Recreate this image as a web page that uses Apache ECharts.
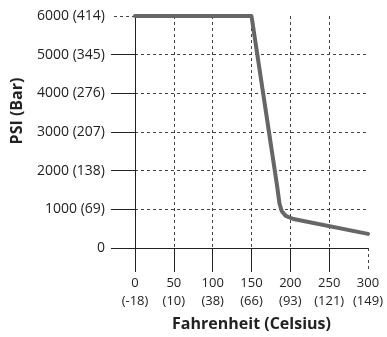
<!DOCTYPE html>
<html>
<head>
<meta charset="utf-8">
<script src="https://cdn.jsdelivr.net/npm/echarts@6/dist/echarts.min.js"></script>
<style>
  html, body { margin: 0; padding: 0; background: #fff; }
  #chart { width: 387px; height: 337px; }
</style>
</head>
<body>
<div id="chart"></div>
<script>
// data
const tempF = [0, 150, 183, 186, 189, 194, 204, 300]
const pressurePsi = [6000, 6000, 1600, 1150, 950, 830, 750, 365]

const fahrenheitTicks = [0, 50, 100, 150, 200, 250, 300]
const celsiusLabels = ['(-18)', '(10)', '(38)', '(66)', '(93)', '(121)', '(149)']
const psiTicks = [0, 1000, 2000, 3000, 4000, 5000, 6000]
const barLabels = ['', '(69)', '(138)', '(207)', '(276)', '(345)', '(414)']

const xMin = 0, xMax = 300, xStep = 50
const yMin = 0, yMax = 6000, yStep = 1000

const font = 'Open Sans'
const dark = '#222'
const dash = [3, 3]

const chart = echarts.init(document.getElementById('chart'))

const hidden = { show: false }

const option = {
  animation: false,
  grid: { left: 135, right: 19, top: 16, bottom: 86 },
  xAxis: [
    {
      type: 'value', position: 'bottom', min: xMin, max: xMax, interval: xStep,
      name: 'Fahrenheit (Celsius)',
      nameLocation: 'middle',
      nameGap: 68,
      nameTextStyle: { fontFamily: font, fontSize: 16, fontWeight: 'bold', color: dark },
      axisLine: { show: true, lineStyle: { color: dark, width: 1 } },
      axisTick: {
        show: true, length: 24, customValues: fahrenheitTicks.slice(0, -1),
        lineStyle: { color: dark, width: 1 }
      },
      axisLabel: {
        margin: 26,
        fontFamily: font, fontSize: 13, color: dark, lineHeight: 18,
        formatter: v => v + '\n' + celsiusLabels[fahrenheitTicks.indexOf(v)]
      },
      splitLine: { show: true, lineStyle: { color: '#444', type: dash, width: 1 } }
    },
    {
      // dashed tick under the right border
      type: 'value', position: 'bottom', min: xMin, max: xMax, interval: xStep,
      axisLine: hidden, axisLabel: hidden, splitLine: hidden,
      axisTick: {
        show: true, length: 24, customValues: [xMax],
        lineStyle: { color: '#444', type: dash, width: 1 }
      }
    }
  ],
  yAxis: [
    {
      type: 'value', position: 'left', min: yMin, max: yMax, interval: yStep,
      name: 'PSI (Bar)',
      nameLocation: 'middle',
      nameGap: 110,
      nameTextStyle: {
        fontFamily: font, fontSize: 16, fontWeight: 'bold', color: dark,
        padding: [0, 0, 0, 42]
      },
      axisLine: { show: true, lineStyle: { color: dark, width: 1 } },
      axisTick: {
        show: true, length: 24, customValues: psiTicks.slice(0, -1),
        lineStyle: { color: dark, width: 1 }
      },
      axisLabel: {
        margin: 30,
        fontFamily: font, fontSize: 14, color: dark,
        formatter: v => {
          const b = barLabels[psiTicks.indexOf(v)]
          return b ? v + ' ' + b : String(v)
        }
      },
      splitLine: { show: true, lineStyle: { color: '#444', type: dash, width: 1 } }
    },
    {
      // dashed tick left of the top border
      type: 'value', position: 'left', min: yMin, max: yMax, interval: yStep,
      axisLine: hidden, axisLabel: hidden, splitLine: hidden,
      axisTick: {
        show: true, length: 24, customValues: [yMax],
        lineStyle: { color: '#444', type: dash, width: 1 }
      }
    }
  ],
  series: [
    {
      type: 'line',
      xAxisIndex: 0,
      yAxisIndex: 0,
      data: tempF.map((t, i) => [t, pressurePsi[i]]),
      showSymbol: false,
      smooth: false,
      lineStyle: { color: '#666', width: 4, join: 'round', cap: 'round' },
      z: 5
    }
  ]
}

chart.setOption(option)
</script>
</body>
</html>
